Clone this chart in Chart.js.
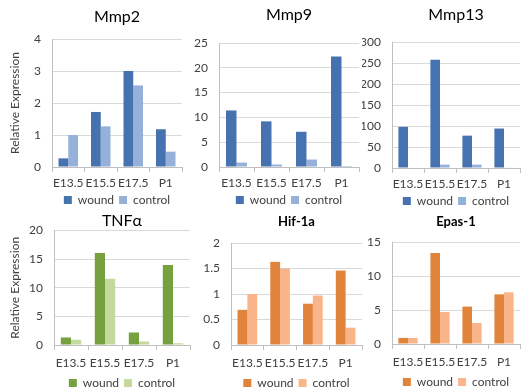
<!DOCTYPE html>
<html>
<head>
<meta charset="utf-8">
<script src="https://cdn.jsdelivr.net/npm/chart.js@4.4.0/dist/chart.umd.min.js"></script>
<style>
  html, body { margin: 0; padding: 0; background: #fff; overflow: hidden; width: 521px; height: 391px; }
  canvas { position: absolute; }
</style>
</head>
<body>
<canvas id="mmp2"></canvas>
<canvas id="mmp9"></canvas>
<canvas id="mmp13"></canvas>
<canvas id="tnfa"></canvas>
<canvas id="hif"></canvas>
<canvas id="epas"></canvas>
<script>
const categories = ["E13.5", "E15.5", "E17.5", "P1"];
const seriesNames = ["wound", "control"];

const mmp2Wound = [0.27, 1.72, 3.0, 1.18];
const mmp2Control = [1.0, 1.27, 2.55, 0.48];
const mmp9Wound = [11.4, 9.2, 7.1, 22.3];
const mmp9Control = [0.9, 0.5, 1.5, 0.2];
const mmp13Wound = [98, 258, 77, 94];
const mmp13Control = [0, 8, 8, 1];
const tnfaWound = [1.3, 16.1, 2.2, 14.0];
const tnfaControl = [0.9, 11.6, 0.6, 0.3];
const hifWound = [0.69, 1.63, 0.81, 1.46];
const hifControl = [1.0, 1.5, 0.97, 0.34];
const epasWound = [0.9, 13.4, 5.5, 7.3];
const epasControl = [0.9, 4.7, 3.1, 7.6];

const blue = ["#4672b0", "#95b0d9"];
const green = ["#77a03e", "#c4d9a0"];
const orange = ["#e0843c", "#f9b48a"];

Chart.defaults.font.family = "Lato, 'Open Sans', sans-serif";
Chart.defaults.color = "#404040";

// left/top/width/height of canvas, y axis width, x axis height, title paddings
function makeChart(id, p) {
  const el = document.getElementById(id);
  el.width = p.w;
  el.height = p.h;
  el.style.left = p.left + "px";
  el.style.top = p.top + "px";

  new Chart(el, {
    type: "bar",
    data: {
      labels: categories,
      datasets: [
        { label: seriesNames[0], data: p.wound, backgroundColor: p.colors[0] },
        { label: seriesNames[1], data: p.control, backgroundColor: p.colors[1] },
      ],
    },
    options: {
      responsive: false,
      animation: false,
      layout: { padding: { left: 0, right: p.padRight, top: 0, bottom: 0 } },
      datasets: { bar: { categoryPercentage: 0.6, barPercentage: 1.0 } },
      plugins: {
        tooltip: { enabled: false },
        title: {
          display: true,
          text: p.title,
          fullSize: false,
          color: "#000",
          font: { size: p.titleSize, weight: p.titleBold ? "bold" : "normal" },
          padding: { top: p.titleTop, bottom: p.titleBottom },
        },
        legend: {
          position: "bottom",
          fullSize: false,
          labels: {
            boxWidth: 8,
            boxHeight: 8,
            padding: 5,
            color: "#404040",
            font: { size: 12 },
          },
        },
      },
      scales: {
        x: {
          grid: { display: true, drawOnChartArea: false, drawTicks: true, tickLength: 5, color: "#bfbfbf" },
          border: { color: "#bfbfbf" },
          ticks: { font: { size: 12 }, padding: p.xPad, maxRotation: 0, autoSkip: false },
          afterFit: s => { s.height = p.xh; },
        },
        y: {
          min: 0,
          max: p.max,
          grid: { color: "#d9d9d9", drawTicks: false },
          border: { color: "#bfbfbf" },
          ticks: { stepSize: p.step, font: { size: 12 }, padding: 11, callback: v => String(v) },
          title: {
            display: !!p.yTitle,
            text: "Relative Expression",
            color: "#404040",
            font: { size: 12 },
            padding: { top: 8, bottom: 0 },
          },
          afterFit: s => { s.width = p.yw; },
        },
      },
    },
  });
}

makeChart("mmp2", {
  left: 0, top: 0, w: 185, h: 216, padRight: 3, yw: 52, xh: 22, xPad: 4,
  title: "Mmp2", titleSize: 16, titleTop: 7, titleBottom: 12.8, yTitle: true,
  max: 4, step: 1, wound: mmp2Wound, control: mmp2Control, colors: blue,
});
makeChart("mmp9", {
  left: 185, top: 0, w: 177, h: 216, padRight: 3, yw: 34, xh: 22, xPad: 4,
  title: "Mmp9", titleSize: 16, titleTop: 5.4, titleBottom: 18.4,
  max: 25, step: 5, wound: mmp9Wound, control: mmp9Control, colors: blue,
});
makeChart("mmp13", {
  left: 362, top: 0, w: 159, h: 217, padRight: 1, yw: 30, xh: 22, xPad: 4,
  title: "Mmp13", titleSize: 16, titleTop: 5.4, titleBottom: 17.4,
  max: 300, step: 50, wound: mmp13Wound, control: mmp13Control, colors: blue,
});
makeChart("tnfa", {
  left: 0, top: 204, w: 193, h: 195, padRight: 3, yw: 54, xh: 27, xPad: 6,
  title: "TNFα", titleSize: 16, titleTop: 7.4, titleBottom: 0, yTitle: true,
  max: 20, step: 5, wound: tnfaWound, control: tnfaControl, colors: green,
});
makeChart("hif", {
  left: 193, top: 204, w: 172, h: 195, padRight: 3, yw: 38, xh: 27, xPad: 6,
  title: "Hif-1a", titleSize: 13, titleBold: true, titleTop: 10.2, titleBottom: 13.2,
  max: 2, step: 0.5, wound: hifWound, control: hifControl, colors: orange,
});
makeChart("epas", {
  left: 365, top: 204, w: 156, h: 194, padRight: 1, yw: 27, xh: 27, xPad: 6,
  title: "Epas-1", titleSize: 13, titleBold: true, titleTop: 10.2, titleBottom: 12.2,
  max: 15, step: 5, wound: epasWound, control: epasControl, colors: orange,
});
</script>
</body>
</html>
